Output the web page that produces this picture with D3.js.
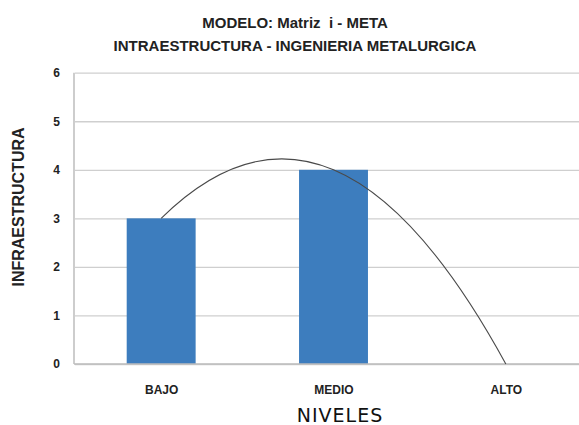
<!DOCTYPE html>
<html><head><meta charset="utf-8">
<script src="https://cdn.jsdelivr.net/npm/d3@7"></script>
<style>body{margin:0;background:#fff}svg{display:block}</style>
</head><body>
<svg id="c" width="579" height="425"></svg>
<script>
const categories = ["BAJO", "MEDIO", "ALTO"];
const values = [3, 4, 0];
const yTicks = [0, 1, 2, 3, 4, 5, 6];
const titleLines = ["MODELO: Matriz  i - META", "INTRAESTRUCTURA - INGENIERIA METALURGICA"];
const xTitle = "NIVELES";
const yTitle = "INFRAESTRUCTURA";

(function () {
const svg = d3.select("#c");
const mLeft = 75, mRight = 592, mTop = 72.7, mBottom = 364;
const x = d3.scaleBand().domain(categories).range([mLeft, mRight]).paddingInner(0.6).paddingOuter(0.3);
const xc = d3.scalePoint().domain(categories).range([mLeft, mRight]).padding(0.5);
const y = d3.scaleLinear().domain([0, 6]).range([mBottom, mTop]);

// gridlines
const yAxis = d3.axisLeft(y).tickValues(yTicks).tickFormat(d3.format("d")).tickSize(-(579 - mLeft)).tickPadding(15);
const gy = svg.append("g").attr("transform", `translate(${mLeft},0)`).call(yAxis);
gy.select(".domain").remove();
gy.selectAll(".tick line").attr("stroke", "#cfcfcf").attr("stroke-width", 1.3);
gy.selectAll(".tick text").attr("font-family", "Liberation Sans, Arial, sans-serif")
  .attr("font-weight", "bold").attr("font-size", 12).attr("fill", "#222");

// bars
svg.append("g").selectAll("rect").data(categories).join("rect")
  .attr("x", d => x(d)).attr("width", x.bandwidth())
  .attr("y", (d, i) => y(values[i])).attr("height", (d, i) => y(0) - y(values[i]))
  .attr("fill", "#3d7dbe");

// axes lines
svg.append("line").attr("x1", mLeft - 1).attr("x2", mLeft - 1).attr("y1", mTop).attr("y2", mBottom)
  .attr("stroke", "#bdbdbd").attr("stroke-width", 1.5);
svg.append("line").attr("x1", mLeft - 1).attr("x2", 579).attr("y1", mBottom).attr("y2", mBottom)
  .attr("stroke", "#bdbdbd").attr("stroke-width", 1.5);

// x axis labels
const xAxis = d3.axisBottom(xc).tickSize(0).tickPadding(21);
const gx = svg.append("g").attr("transform", `translate(0,${mBottom})`).call(xAxis);
gx.select(".domain").remove();
gx.selectAll(".tick text").attr("font-family", "Liberation Sans, Arial, sans-serif")
  .attr("font-weight", "bold").attr("font-size", 12).attr("fill", "#222");

// polynomial (order 2) trendline through the three points as a quadratic Bezier
const x0 = xc(categories[0]), x1 = xc(categories[1]), x2 = xc(categories[2]);
const ctrl = 2 * values[1] - (values[0] + values[2]) / 2;
svg.append("path")
  .attr("d", `M${x0},${y(values[0])} Q${x1},${y(ctrl)} ${x2},${y(values[2])}`)
  .attr("fill", "none").attr("stroke", "#4a4a4a").attr("stroke-width", 1.1);

// titles
svg.append("g").selectAll("text").data(titleLines).join("text")
  .attr("x", 295).attr("y", (d, i) => 28 + i * 23)
  .style("white-space", "pre")
  .attr("text-anchor", "middle").attr("font-family", "Liberation Sans, Arial, sans-serif")
  .attr("font-weight", "bold").attr("font-size", 15).attr("fill", "#222").text(d => d);

svg.append("text").attr("x", 340).attr("y", 422).attr("text-anchor", "middle")
  .attr("font-family", "DejaVu Sans, sans-serif").attr("font-size", 19).attr("letter-spacing", 1)
  .attr("fill", "#111").text(xTitle);

svg.append("text").attr("transform", "translate(24,207) rotate(-90)").attr("text-anchor", "middle")
  .attr("font-family", "Liberation Sans, Arial, sans-serif").attr("font-weight", "bold")
  .attr("font-size", 16).attr("fill", "#222").text(yTitle);
})();
</script>
</body></html>
